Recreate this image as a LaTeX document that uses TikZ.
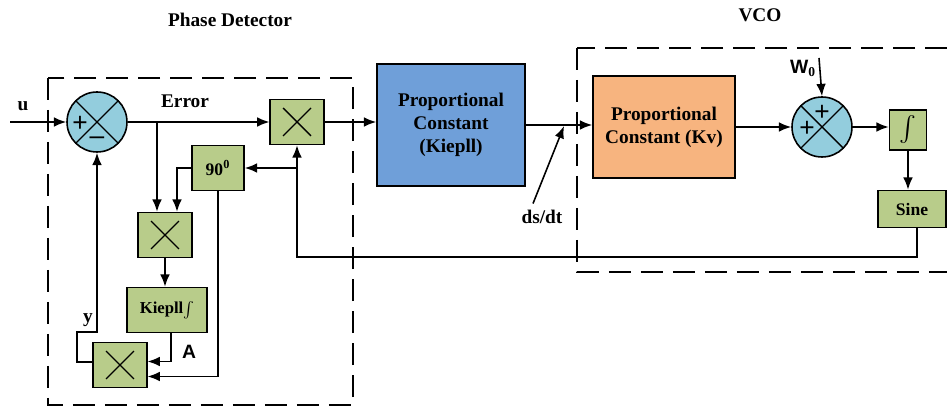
\documentclass[tikz,border=0pt]{standalone}
\usepackage{amsmath}
\usepackage{fontspec}
\setmainfont{Liberation Serif}
\newfontfamily\arialfont{Liberation Sans}
\usetikzlibrary{arrows.meta}
\definecolor{blkgreen}{RGB}{184,204,138}
\definecolor{sumblue}{RGB}{147,205,221}
\definecolor{kieblue}{RGB}{111,159,217}
\definecolor{kvorange}{RGB}{247,180,127}
\newcommand{\crosspp}[1]{\draw[line width=0.8pt] ([shift={(-#1,-#1)}]path picture bounding box.center) -- ([shift={(#1,#1)}]path picture bounding box.center)
                                                 ([shift={(-#1,#1)}]path picture bounding box.center) -- ([shift={(#1,-#1)}]path picture bounding box.center);}

\begin{document}
\begin{tikzpicture}[x=0.02cm,y=-0.02cm,line width=0.9pt,>={Latex[length=7pt,width=5.5pt]}]
    \tikzset{blk/.style={draw, inner sep=0pt, align=center, font=\bfseries\fontsize{11}{13}\selectfont},
             mult/.style={blk, fill=blkgreen, minimum width=1.07cm, minimum height=0.9cm, path picture={\crosspp{0.28cm}}},
             sumc/.style={draw, circle, fill=sumblue, minimum size=1.2cm, inner sep=0pt, path picture={\crosspp{0.45cm}}},
             gbox/.style={blk, fill=blkgreen},
             lbl/.style={font=\bfseries\fontsize{11}{13}\selectfont},
             sgn/.style={font=\arialfont\fontsize{15}{15}\selectfont, inner sep=0pt},
             grp/.style={dashed, dash pattern=on 0.44cm off 0.2cm}}
    \useasboundingbox (0,0) rectangle (947,408);
    % group boxes
    \draw[grp] (48,78) rectangle (353,405);
    \draw[grp] (577,48) rectangle (970,272);
    \node[lbl] (pdT) at (230,20) {Phase Detector};
    \node[lbl] (vcoT) at (760,15) {VCO};
    % phase detector
    \node[sumc] (sumA) at (97,122) {};
    \node[sgn] at ([shift={(-17,2)}]sumA.center) {+};
    \node[sgn] at ([shift={(0,19)}]sumA.center) {–};
    \node[mult] (mulA) at (297,122) {};
    \node[gbox, minimum width=1.04cm, minimum height=0.9cm, font=\bfseries\fontsize{10}{12}\selectfont] (shift) at (218,168) {90\textsuperscript{0}};
    \node[mult] (mulB) at (165,235) {};
    \node[gbox, minimum width=1.6cm, minimum height=0.9cm, font=\bfseries\fontsize{9.5}{12}\selectfont] (intK) at (167,310) {Kiepll$\int$};
    \node[mult] (mulC) at (120,365) {};
    \coordinate (uin) at (10,122);
    \coordinate (brA) at (157,122);
    \node[lbl] (uL) at (23,106) {u};
    \node[lbl] (errL) at (185,101) {Error};
    \node[lbl] (yL) at (88,320) {y};
    \node[font=\arialfont\bfseries\fontsize{11}{13}\selectfont] (aL) at (189,352) {A};
    % loop filter and VCO
    \node[blk, fill=kieblue, minimum width=2.96cm, minimum height=2.44cm] (kie) at (451,125) {Proportional\\Constant\\(Kiepll)};
    \node[blk, fill=kvorange, minimum width=2.84cm, minimum height=2.04cm] (kv) at (664,127) {Proportional\\Constant (Kv)};
    \node[sumc] (sumB) at (822,127) {};
    \node[sgn] at ([shift={(0,-14)}]sumB.center) {+};
    \node[sgn] at ([shift={(-15,2)}]sumB.center) {+};
    \node[gbox, minimum width=0.74cm, minimum height=0.8cm] (intg) at (908,130) {\Large$\int$};
    \node[gbox, minimum width=1.36cm, minimum height=0.74cm, font=\bfseries\fontsize{10}{12}\selectfont] (sine) at (912,209) {Sine};
    \coordinate (wIn) at (819,58);
    \node[font=\arialfont\bfseries\fontsize{11}{13}\selectfont] (wL) at (803,68) {W$_{\mathbf{0}}$};
    \coordinate (dsTip) at (564,126);
    \node[lbl] (dsL) at (542,217) {ds/dt};
    % connections
    \draw[->] (uin) -- (sumA.west);
    \draw[->] (sumA.east) -- (mulA.west);
    \draw[->] (brA) -- (brA |- mulB.north);
    \draw[->] (shift.west) -| ([xshift=0.24cm]mulB.north);
    \draw[->] (mulB.south) -- (mulB.south |- intK.north);
    \draw[->] ([xshift=0.08cm]intK.south) |- ([yshift=0.07cm]mulC.east);
    \draw[->] (shift.south) |- ([yshift=-0.23cm]mulC.east);
    \draw[->] ([yshift=0.06cm]mulC.west) -| (77,332) -| (sumA.south);
    \draw[->] (mulA.east) -- (mulA.east -| kie.west);
    \draw[->] (kie.east) -- (kie.east -| kv.west);
    \draw[->] ([xshift=-0.18cm]dsL.north) -- (dsTip);
    \draw[->] (kv.east) -- (kv.east -| sumB.west);
    \draw[->] (wIn) -- (sumB.north);
    \draw[->] (sumB.east) -- (sumB.east -| intg.west);
    \draw[->] (intg.south) -- (intg.south |- sine.north);
    \draw[->] ([xshift=0.1cm]sine.south) -- ++(0,29) -| (mulA.south);
    \draw[->] (mulA.south |- shift.east) -- (shift.east);
\end{tikzpicture}
\end{document}
